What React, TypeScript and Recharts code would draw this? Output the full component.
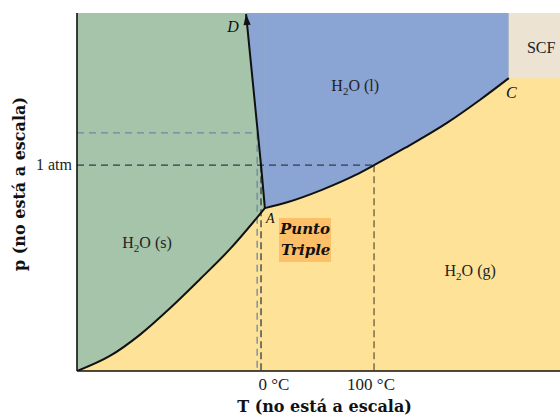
import { Area, ComposedChart, Line, Scatter, XAxis, YAxis } from "recharts"

// phase diagram of water, not to scale: T and p in arbitrary units (0-100)
const sublimationT = [0, 6.8, 13.0, 19.3, 25.5, 31.7, 38.9]
const sublimationP = [0, 4.2, 10.1, 17.6, 25.7, 34.1, 45.5]

const vaporT = [38.9, 43.7, 50.7, 57.6, 61.5, 67.9, 76.6, 83.4, 89.4]
const vaporP = [45.5, 47.2, 50.6, 54.7, 57.5, 62.3, 69.3, 75.7, 81.8]

const fusionT = [38.9, 38.1, 35.0]
const fusionP = [45.5, 57.5, 99.7]

const tempTicks = [38.1, 61.5]
const tempLabels = ["0 °C", "100 °C"]
const pressureTicks = [57.5]
const pressureLabels = ["1 atm"]

// second (higher) pressure guide that meets the fusion line
const upperP = 66.5
const upperT = 37.3

const noteT = [32.3, 89.9, 40.0, 96.1, 57.6, 14.5, 81.4, 47.2]
const noteP = [96.1, 77.9, 42.5, 90.5, 79.9, 36.0, 28.2, 36.6]
const noteText = ["D", "C", "A", "SCF", "(l)", "(s)", "(g)", "Punto Triple"]

const pts = (ts: number[], ps: number[]) => ts.map((t, i) => ({ t, p: ps[i] }))
const toTop = (ts: number[], ps: number[]) => ts.map((t, i) => ({ t, range: [ps[i], 100] }))

const sublimation = pts(sublimationT, sublimationP)
const vapor = pts(vaporT, vaporP)
const fusion = pts(fusionT, fusionP)

const critT = vaporT[vaporT.length - 1]
const critP = vaporP[vaporP.length - 1]

const background = [{ t: 0, range: [0, 100] }, { t: 100, range: [0, 100] }]
const scf = [{ t: critT, range: [critP, 100] }, { t: 100, range: [critP, 100] }]
const solid = toTop(sublimationT, sublimationP)
const liquidFusion = toTop([...fusionT].reverse(), [...fusionP].reverse())
const liquidVapor = toTop(vaporT, vaporP)

const oneAtm = pts([0, tempTicks[1]], [pressureTicks[0], pressureTicks[0]])
const boilGuide = pts([tempTicks[1], tempTicks[1]], [pressureTicks[0], 0])
const meltGuide = pts([tempTicks[0], tempTicks[0]], [pressureTicks[0], 0])
const upperGuide = pts([0, upperT, upperT], [upperP, upperP, 0])

const notes = noteT.map((t, i) => ({ t, p: noteP[i], text: noteText[i] }))

const serif = "'Liberation Serif', 'Times New Roman', serif"
const heavy = "'DejaVu Serif', serif"
const tickNudge = [13, -3]

const XTick = (props: any) => {
    const { x, y, payload } = props
    const i = tempTicks.indexOf(payload.value)
    return (
        <text x={x + tickNudge[i]} y={y + 19} textAnchor="middle" fontFamily={serif} fontSize={17} fill="#222">
            {tempLabels[i]}
        </text>
    )
}

const YTick = (props: any) => {
    const { x, y, payload } = props
    const i = pressureTicks.indexOf(payload.value)
    return (
        <text x={x - 5} y={y + 5} textAnchor="end" fontFamily={serif} fontSize={16} fill="#222">
            {pressureLabels[i]}
        </text>
    )
}

const XTitle = (props: any) => {
    const { x, y, width } = props.viewBox
    return (
        <text x={x + width / 2 + 6} y={y + 41} textAnchor="middle" fontFamily={heavy} fontWeight="bold" fontSize={16} fill="#111">
            T (no está a escala)
        </text>
    )
}

const YTitle = (props: any) => {
    const { x, y, height } = props.viewBox
    const cx = x + 25
    const cy = y + height / 2 - 8
    return (
        <text x={cx} y={cy} transform={`rotate(-90 ${cx} ${cy})`} textAnchor="middle" fontFamily={heavy} fontWeight="bold" fontSize={16} fill="#111">
            p (no está a escala)
        </text>
    )
}

const Note = (props: any) => {
    const { cx, cy, payload } = props
    const text: string = payload.text
    if (text.length === 1) {
        return (
            <text x={cx} y={cy} textAnchor="middle" dominantBaseline="central" fontFamily={serif} fontStyle="italic" fontSize={text === "A" ? 14 : 16} fill="#111">
                {text}
            </text>
        )
    }
    if (text === "SCF") {
        return (
            <text x={cx} y={cy} textAnchor="middle" dominantBaseline="central" fontFamily={serif} fontSize={16} fill="#222">
                {text}
            </text>
        )
    }
    if (text.startsWith("(")) {
        return (
            <text x={cx} y={cy + 6} textAnchor="middle" fontFamily={serif} fontSize={16} fill="#222">
                H<tspan dy={4} fontSize={11}>2</tspan>
                <tspan dy={-4}>O {text}</tspan>
            </text>
        )
    }
    const [first, second] = text.split(" ")
    return (
        <g>
            <rect x={cx - 26} y={cy - 22} width={52} height={44} fill="#fdc068" />
            <text x={cx - 25} y={cy - 6} fontFamily={heavy} fontWeight="bold" fontStyle="italic" fontSize={15} fill="#111">
                {first}
            </text>
            <text x={cx - 24} y={cy + 15} fontFamily={heavy} fontWeight="bold" fontStyle="italic" fontSize={15} fill="#111">
                {second}
            </text>
        </g>
    )
}

const ArrowTip = (props: any) => {
    const { cx, cy, index } = props
    if (index !== fusion.length - 1) return <g key={`tip-${index}`} />
    return (
        <path
            key={`tip-${index}`}
            d="M0,0 L-3.6,11 L3.6,11 Z"
            transform={`translate(${cx} ${cy}) rotate(-5.6)`}
            fill="#111"
        />
    )
}

export default function App() {
    return (
        <div style={{ position: "absolute", left: 0, top: 0, background: "#fff" }}>
            <ComposedChart width={560} height={417} margin={{ top: 13, right: 0, bottom: 0, left: 0 }}>
                <XAxis
                    type="number"
                    dataKey="t"
                    domain={[0, 100]}
                    allowDataOverflow
                    ticks={tempTicks}
                    tick={XTick}
                    tickLine={false}
                    tickSize={0}
                    tickMargin={0}
                    height={46}
                    axisLine={{ stroke: "#111", strokeWidth: 1.6 }}
                    label={XTitle}
                />
                <YAxis
                    type="number"
                    dataKey="p"
                    domain={[0, 100]}
                    allowDataOverflow
                    ticks={pressureTicks}
                    tick={YTick}
                    tickLine={false}
                    tickSize={0}
                    tickMargin={0}
                    width={77}
                    axisLine={{ stroke: "#111", strokeWidth: 1.6 }}
                    label={YTitle}
                />

                <Area data={background} dataKey="range" type="linear" stroke="none" fill="#fde298" fillOpacity={1} isAnimationActive={false} />
                <Area data={solid} dataKey="range" type="monotone" stroke="none" fill="#a6c4aa" fillOpacity={1} isAnimationActive={false} />
                <Area data={liquidFusion} dataKey="range" type="linear" stroke="none" fill="#8aa4d4" fillOpacity={1} isAnimationActive={false} />
                <Area data={liquidVapor} dataKey="range" type="monotone" stroke="none" fill="#8aa4d4" fillOpacity={1} isAnimationActive={false} />
                <Area data={scf} dataKey="range" type="linear" stroke="none" fill="#ece3d2" fillOpacity={1} isAnimationActive={false} />

                <Line data={upperGuide} dataKey="p" type="linear" stroke="#6a88a4" strokeWidth={1.3} strokeDasharray="7 5" dot={false} isAnimationActive={false} />
                <Line data={oneAtm} dataKey="p" type="linear" stroke="#333b44" strokeWidth={1.3} strokeDasharray="7 5" dot={false} isAnimationActive={false} />
                <Line data={meltGuide} dataKey="p" type="linear" stroke="#333b44" strokeWidth={1.3} strokeDasharray="7 4" dot={false} isAnimationActive={false} />
                <Line data={boilGuide} dataKey="p" type="linear" stroke="#6b5a3a" strokeWidth={1.3} strokeDasharray="7 4" dot={false} isAnimationActive={false} />

                <Line data={sublimation} dataKey="p" type="monotone" stroke="#111" strokeWidth={2} dot={false} isAnimationActive={false} />
                <Line data={vapor} dataKey="p" type="monotone" stroke="#111" strokeWidth={2} dot={false} isAnimationActive={false} />
                <Line data={fusion} dataKey="p" type="linear" stroke="#111" strokeWidth={2} dot={ArrowTip} isAnimationActive={false} />

                <Scatter data={notes} dataKey="p" shape={Note} isAnimationActive={false} />
            </ComposedChart>
        </div>
    )
}
